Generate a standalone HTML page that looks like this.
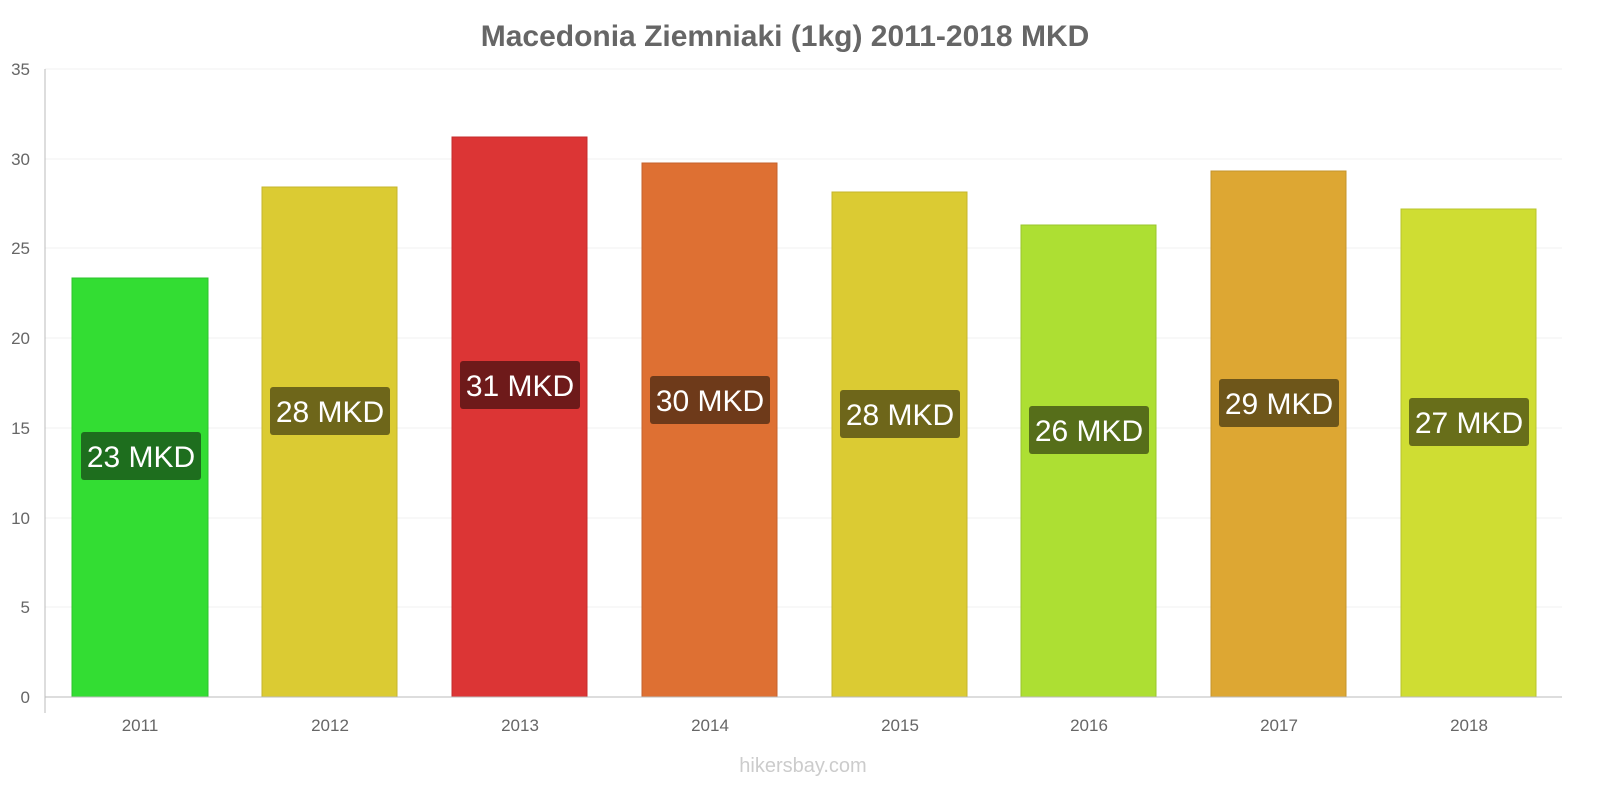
<!DOCTYPE html>
<html><head><meta charset="utf-8"><style>
body{margin:0;background:#fff;}
svg{display:block;font-family:"Liberation Sans",sans-serif;}
</style></head><body>
<svg width="1600" height="800" viewBox="0 0 1600 800">
<text x="785" y="46" text-anchor="middle" font-size="30" font-weight="bold" fill="#666">Macedonia Ziemniaki (1kg) 2011-2018 MKD</text>
<g stroke="#f0f0f0" stroke-width="1">
<line x1="45" x2="1562" y1="69" y2="69"/><line x1="45" x2="1562" y1="159" y2="159"/><line x1="45" x2="1562" y1="248" y2="248"/><line x1="45" x2="1562" y1="338" y2="338"/><line x1="45" x2="1562" y1="428" y2="428"/><line x1="45" x2="1562" y1="518" y2="518"/><line x1="45" x2="1562" y1="607" y2="607"/>
</g>
<g font-size="17" fill="#666" text-anchor="end">
<text x="30" y="75">35</text><text x="30" y="165">30</text><text x="30" y="254">25</text><text x="30" y="344">20</text><text x="30" y="434">15</text><text x="30" y="524">10</text><text x="30" y="613">5</text><text x="30" y="703">0</text>
</g>
<g stroke-width="1">
<rect x="72" y="278" width="136" height="419" fill="#33dd33" stroke="#2cc42c"/>
<rect x="262" y="187" width="135" height="510" fill="#dbcb33" stroke="#c4b52c"/>
<rect x="452" y="137" width="135" height="560" fill="#dc3535" stroke="#c42c2c"/>
<rect x="642" y="163" width="135" height="534" fill="#de7033" stroke="#c4622c"/>
<rect x="832" y="192" width="135" height="505" fill="#dbcb33" stroke="#c4b52c"/>
<rect x="1021" y="225" width="135" height="472" fill="#addf33" stroke="#9ac42c"/>
<rect x="1211" y="171" width="135" height="526" fill="#dda733" stroke="#c4942c"/>
<rect x="1401" y="209" width="135" height="488" fill="#cfdd33" stroke="#b8c42c"/>
</g>
<line x1="45" x2="45" y1="69" y2="713" stroke="#bbb"/>
<line x1="45" x2="1562" y1="697" y2="697" stroke="#bbb"/>
<g font-size="30" fill="#fff" text-anchor="middle">
<rect x="81" y="432" width="120" height="48" rx="3" fill="#1e6e1e"/><text x="141" y="467">23 MKD</text>
<rect x="270" y="387" width="120" height="48" rx="3" fill="#6e661a"/><text x="330" y="422">28 MKD</text>
<rect x="460" y="361" width="120" height="48" rx="3" fill="#6e1a1a"/><text x="520" y="396">31 MKD</text>
<rect x="650" y="376" width="120" height="48" rx="3" fill="#6e3a1a"/><text x="710" y="411">30 MKD</text>
<rect x="840" y="390" width="120" height="48" rx="3" fill="#6e661a"/><text x="900" y="425">28 MKD</text>
<rect x="1029" y="406" width="120" height="48" rx="3" fill="#566e1a"/><text x="1089" y="441">26 MKD</text>
<rect x="1219" y="379" width="120" height="48" rx="3" fill="#6e561a"/><text x="1279" y="414">29 MKD</text>
<rect x="1409" y="398" width="120" height="48" rx="3" fill="#686e1a"/><text x="1469" y="433">27 MKD</text>
</g>
<g font-size="17" fill="#666" text-anchor="middle">
<text x="140" y="731">2011</text><text x="330" y="731">2012</text><text x="520" y="731">2013</text><text x="710" y="731">2014</text><text x="900" y="731">2015</text><text x="1089" y="731">2016</text><text x="1279" y="731">2017</text><text x="1469" y="731">2018</text>
</g>
<text x="803" y="772" text-anchor="middle" font-size="20" fill="#ccc">hikersbay.com</text>
</svg>
</body></html>
